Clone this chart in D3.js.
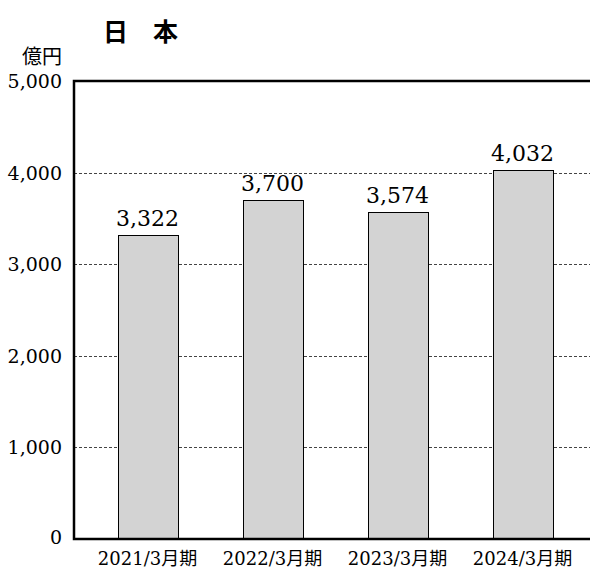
<!DOCTYPE html>
<html><head><meta charset="utf-8">
<script src="https://cdn.jsdelivr.net/npm/d3@7"></script>
<style>
body{margin:0;background:#fff}
.sf{font-family:"DejaVu Serif","Liberation Serif","Noto Sans CJK JP",serif;}
.tt{font-family:"Noto Sans CJK JP","Noto Sans",sans-serif;font-weight:bold;}
</style>
</head><body>
<svg id="c" width="590" height="573"></svg>
<script>
const categories = ["2021/3月期", "2022/3月期", "2023/3月期", "2024/3月期"];
const values = [3322, 3700, 3574, 4032];
const yTicks = [0, 1000, 2000, 3000, 4000, 5000];
const title = "日　本";
const unit = "億円";

const svg = d3.select("#c");
const L = 74, B = 539, T = 81;
const x = d3.scaleBand().domain(categories).range([85, 585]).paddingInner(0.52).paddingOuter(0.26);
const y = d3.scaleLinear().domain([0, 5000]).range([B, T]);

// grid
svg.append("g").selectAll("line").data(yTicks.filter(d => d > 0 && d < 5000)).join("line")
  .attr("x1", L).attr("x2", 590).attr("y1", d => Math.round(y(d)) + 0.5).attr("y2", d => Math.round(y(d)) + 0.5)
  .attr("stroke", "#444").attr("stroke-width", 1).attr("stroke-dasharray", "3,2");

// bars
svg.append("g").selectAll("rect").data(values).join("rect")
  .attr("x", (d, i) => Math.round(x(categories[i])) + 0.5)
  .attr("y", d => Math.round(y(d)) + 0.5)
  .attr("width", Math.round(x.bandwidth()))
  .attr("height", d => B - Math.round(y(d)))
  .attr("fill", "#d3d3d3").attr("stroke", "#000").attr("stroke-width", 1);

// value labels
svg.append("g").selectAll("text").data(values).join("text")
  .attr("class", "sf")
  .attr("x", (d, i) => x(categories[i]) + x.bandwidth() / 2)
  .attr("y", d => y(d) - 9)
  .attr("text-anchor", "middle").attr("font-size", 22)
  .text(d => d3.format(",")(d));

// frame
svg.append("path").attr("d", `M590,${T} H${L} V${B} H590`)
  .attr("fill", "none").attr("stroke", "#000").attr("stroke-width", 2.5);

// y axis labels
svg.append("g").selectAll("text").data(yTicks).join("text")
  .attr("class", "sf")
  .attr("x", 62).attr("y", d => y(d) + (d === 0 ? 5 : 7))
  .attr("text-anchor", "end").attr("font-size", 19)
  .text(d => d3.format(",")(d));

svg.append("text").attr("x", 62).attr("y", 64).attr("text-anchor", "end")
  .attr("font-family", "Noto Sans CJK JP").attr("font-size", 20).text(unit);

// x labels
svg.append("g").selectAll("text").data(categories).join("text")
  .attr("class", "sf")
  .attr("x", d => x(d) + x.bandwidth() / 2).attr("y", 565)
  .attr("text-anchor", "middle").attr("font-size", 18)
  .text(d => d);

// title
svg.append("text").attr("class", "tt").attr("x", 103).attr("y", 41)
  .attr("font-size", 25).attr("xml:space", "preserve").text(title);
</script>
</body></html>
